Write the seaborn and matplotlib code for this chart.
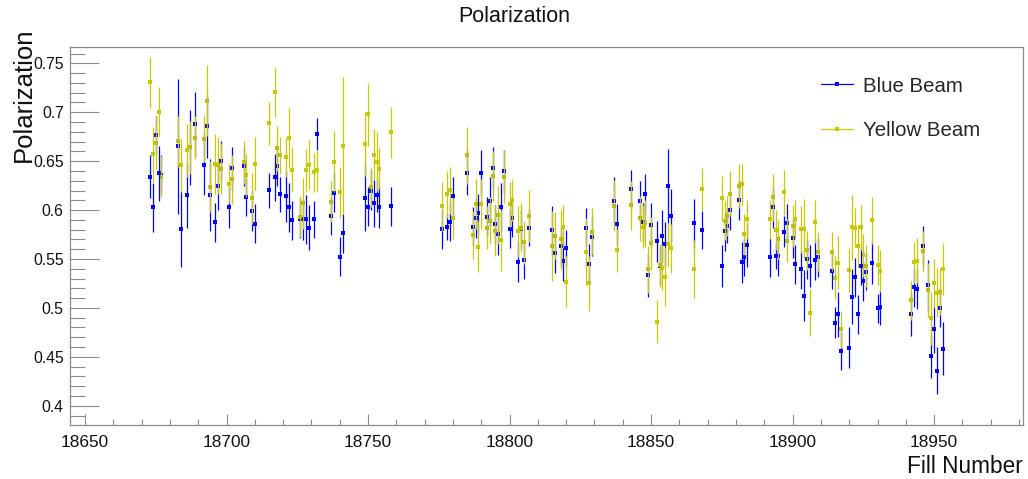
import matplotlib
matplotlib.use("Agg")
import matplotlib.pyplot as plt
from matplotlib.lines import Line2D
from matplotlib.ticker import MultipleLocator, FuncFormatter
import seaborn as sns

# Fill numbers and measured polarizations (with uncertainties) per beam
fills = [
    18673, 18674, 18675, 18676, 18677, 18683, 18684, 18686, 18687, 18689,
    18692, 18693, 18694, 18696, 18697, 18698, 18701, 18702, 18706, 18707,
    18709, 18710, 18715, 18717, 18718, 18719, 18721, 18722, 18723, 18726,
    18727, 18728, 18729, 18731, 18732, 18737, 18738, 18740, 18741, 18749,
    18750, 18751, 18752, 18753, 18754, 18758,
    18776, 18778, 18779, 18780, 18785, 18787, 18788, 18789, 18790, 18792,
    18793, 18794, 18795, 18796, 18797, 18798, 18800, 18801, 18803, 18804,
    18805, 18807,
    18815, 18816, 18818, 18819, 18820, 18827, 18828, 18829, 18837, 18838,
    18843, 18846, 18847, 18848, 18849, 18850, 18852, 18853, 18854, 18855,
    18856, 18857,
    18865, 18868, 18875, 18876, 18877, 18878, 18881, 18882, 18883, 18884,
    18892, 18893, 18894, 18895, 18897, 18898, 18900, 18901, 18903, 18904,
    18905, 18906, 18908, 18909,
    18914, 18915, 18916, 18917, 18920, 18921, 18922, 18923, 18924, 18925,
    18926, 18928, 18930, 18931, 18942, 18943, 18944, 18946, 18948, 18949,
    18950, 18951, 18952, 18953,
]

blue_pol = [
    0.634, 0.603, 0.677, 0.6375, 0.636, 0.6654, 0.5805, 0.615, 0.664, 0.688,
    0.6463, 0.686, 0.6157, 0.5874, 0.6245, 0.6497, 0.603, 0.6429, 0.6446, 0.6133,
    0.599, 0.586, 0.6204, 0.6337, 0.645, 0.6163, 0.6143, 0.6027, 0.5894, 0.5911,
    0.5908, 0.5904, 0.5819, 0.5904, 0.6777, 0.5942, 0.6177, 0.5523, 0.5765, 0.6122,
    0.6034, 0.620, 0.6068, 0.6153, 0.6030, 0.6041,
    0.5803, 0.583, 0.5881, 0.614, 0.6382, 0.583, 0.5918, 0.5966, 0.6382, 0.5932,
    0.6092, 0.6426, 0.5854, 0.5751, 0.6028, 0.6399, 0.5806, 0.5915, 0.5469, 0.5806,
    0.5486, 0.582,
    0.5796, 0.5565, 0.563, 0.548, 0.5608, 0.5819, 0.5451, 0.5727, 0.6095, 0.5853,
    0.6211, 0.6088, 0.5877, 0.6164, 0.5332, 0.5847, 0.5683, 0.5431, 0.5734, 0.5652,
    0.6245, 0.5942,
    0.5864, 0.5796, 0.5428, 0.5782, 0.584, 0.600, 0.6099, 0.5465, 0.5523, 0.5642,
    0.5516, 0.6031, 0.553, 0.553, 0.5779, 0.5864, 0.5711, 0.5445, 0.5397, 0.5124,
    0.5496, 0.5428, 0.5489, 0.5516,
    0.538, 0.4848, 0.4937, 0.4559, 0.4593, 0.5114, 0.5312, 0.4937, 0.5431, 0.5274,
    0.537, 0.5462, 0.4995, 0.5005, 0.4937, 0.521, 0.5189, 0.5632, 0.523, 0.4507,
    0.478, 0.4357, 0.5002, 0.4582,
]

blue_err = [
    0.022, 0.025, 0.019, 0.028, 0.020, 0.069, 0.039, 0.033, 0.038, 0.033,
    0.031, 0.033, 0.037, 0.020, 0.024, 0.021, 0.021, 0.022, 0.020, 0.019,
    0.020, 0.020, 0.018, 0.024, 0.020, 0.018, 0.026, 0.025, 0.020, 0.020,
    0.021, 0.025, 0.023, 0.019, 0.016, 0.020, 0.020, 0.020, 0.020, 0.034,
    0.020, 0.020, 0.024, 0.017, 0.021, 0.020,
    0.020, 0.014, 0.020, 0.020, 0.023, 0.020, 0.020, 0.020, 0.023, 0.020,
    0.025, 0.022, 0.020, 0.021, 0.025, 0.022, 0.019, 0.019, 0.020, 0.019,
    0.019, 0.019,
    0.025, 0.021, 0.020, 0.020, 0.019, 0.020, 0.020, 0.020, 0.024, 0.021,
    0.020, 0.021, 0.020, 0.020, 0.022, 0.023, 0.021, 0.020, 0.027, 0.023,
    0.038, 0.027,
    0.025, 0.019, 0.021, 0.020, 0.018, 0.020, 0.020, 0.021, 0.020, 0.022,
    0.020, 0.021, 0.013, 0.020, 0.016, 0.020, 0.020, 0.020, 0.020, 0.026,
    0.020, 0.021, 0.020, 0.020,
    0.019, 0.016, 0.023, 0.019, 0.021, 0.028, 0.020, 0.020, 0.020, 0.020,
    0.019, 0.022, 0.015, 0.018, 0.022, 0.020, 0.020, 0.021, 0.026, 0.022,
    0.024, 0.024, 0.020, 0.027,
]

yellow_pol = [
    0.7305, 0.657, 0.669, 0.7005, 0.634, 0.6705, 0.6456, 0.6613, 0.664, 0.674,
    0.673, 0.7118, 0.6238, 0.647, 0.6456, 0.6422, 0.6269, 0.6313, 0.649, 0.6358,
    0.6119, 0.6474, 0.6889, 0.7203, 0.6634, 0.6562, 0.6538, 0.6736, 0.6412, 0.5932,
    0.6068, 0.6405, 0.6463, 0.6385, 0.6405, 0.6085, 0.6494, 0.6184, 0.6658, 0.6675,
    0.6978, 0.6235, 0.6566, 0.6494, 0.6422, 0.6794,
    0.6041, 0.6164, 0.6205, 0.5915, 0.6559, 0.5745, 0.6062, 0.5625, 0.6062, 0.582,
    0.5891, 0.6348, 0.5789, 0.5949, 0.569, 0.6341, 0.6062, 0.6103, 0.5785, 0.582,
    0.567, 0.5939,
    0.5635, 0.574, 0.570, 0.583, 0.5267, 0.5574, 0.525, 0.5778, 0.6044, 0.5591,
    0.6051, 0.5915, 0.583, 0.5864, 0.5397, 0.5659, 0.4858, 0.5438, 0.541, 0.5318,
    0.5652, 0.5608,
    0.5397, 0.6215, 0.612, 0.5891, 0.5939, 0.6167, 0.6246, 0.6266, 0.5755, 0.5905,
    0.5905, 0.613, 0.5796, 0.570, 0.6181, 0.5687, 0.5837, 0.5908, 0.5803, 0.581,
    0.5591, 0.495, 0.5881, 0.5574,
    0.5574, 0.5308, 0.5462, 0.4783, 0.5387, 0.5823, 0.582, 0.5629, 0.5823, 0.554,
    0.5428, 0.5898, 0.5438, 0.5377, 0.508, 0.5465, 0.5482, 0.5581, 0.5182, 0.4893,
    0.525, 0.5155, 0.5165, 0.5397,
]

yellow_err = [
    0.026, 0.028, 0.027, 0.025, 0.021, 0.026, 0.027, 0.027, 0.027, 0.022,
    0.024, 0.036, 0.026, 0.031, 0.029, 0.026, 0.020, 0.025, 0.022, 0.022,
    0.026, 0.027, 0.022, 0.025, 0.023, 0.019, 0.020, 0.031, 0.023, 0.021,
    0.026, 0.022, 0.025, 0.020, 0.021, 0.021, 0.031, 0.026, 0.070, 0.033,
    0.032, 0.020, 0.026, 0.030, 0.021, 0.026,
    0.025, 0.024, 0.024, 0.021, 0.029, 0.025, 0.026, 0.026, 0.026, 0.022,
    0.024, 0.026, 0.026, 0.030, 0.031, 0.027, 0.023, 0.021, 0.026, 0.025,
    0.022, 0.027,
    0.036, 0.024, 0.030, 0.022, 0.026, 0.034, 0.028, 0.024, 0.026, 0.022,
    0.025, 0.023, 0.022, 0.024, 0.024, 0.027, 0.022, 0.022, 0.023, 0.030,
    0.022, 0.025,
    0.030, 0.022, 0.023, 0.020, 0.020, 0.023, 0.022, 0.021, 0.021, 0.020,
    0.020, 0.024, 0.020, 0.020, 0.023, 0.022, 0.021, 0.020, 0.024, 0.030,
    0.020, 0.024, 0.022, 0.020,
    0.020, 0.022, 0.027, 0.019, 0.022, 0.033, 0.020, 0.022, 0.023, 0.022,
    0.021, 0.024, 0.020, 0.021, 0.020, 0.021, 0.023, 0.021, 0.028, 0.027,
    0.025, 0.025, 0.024, 0.027,
]

series_labels = ["Blue Beam", "Yellow Beam"]
series_colors = ["#0000ff", "#c8c800"]

sns.set_theme(style="white")
plt.rcParams["font.family"] = ["Liberation Sans", "DejaVu Sans"]

W, H = 1028, 479
fig = plt.figure(figsize=(W / 100, H / 100), dpi=100)
left, right, top, bottom = 70, 1022.7, 47, 425
ax = fig.add_axes([left / W, 1 - bottom / H, (right - left) / W, (bottom - top) / H])

for vals, errs, col in [(blue_pol, blue_err, series_colors[0]),
                        (yellow_pol, yellow_err, series_colors[1])]:
    ax.errorbar(fills, vals, yerr=errs, fmt="none", ecolor=col,
                elinewidth=0.9, capsize=0)
    sns.scatterplot(x=fills, y=vals, color=col, marker="s", s=6,
                    linewidth=0, ax=ax, legend=False)

ax.set_xlim(18644.7, 18981.3)
ax.set_ylim(0.3803, 0.7667)

ax.xaxis.set_major_locator(MultipleLocator(50))
ax.xaxis.set_minor_locator(MultipleLocator(10))
ax.yaxis.set_major_locator(MultipleLocator(0.05))
ax.yaxis.set_minor_locator(MultipleLocator(0.01))
ax.xaxis.set_major_formatter(FuncFormatter(lambda v, p: f"{v:.0f}"))
ax.yaxis.set_major_formatter(FuncFormatter(lambda v, p: f"{v:g}"))

frame_col = "#8c8c8c"
for sp in ax.spines.values():
    sp.set_color(frame_col)
    sp.set_linewidth(0.9)

ax.tick_params(axis="y", which="major", direction="in", length=20.9, width=0.8,
               color=frame_col, labelsize=11.3, pad=4.5, left=True, right=False,
               labelcolor="#111111")
ax.tick_params(axis="y", which="minor", direction="in", length=10.8, width=0.8,
               color=frame_col, left=True, right=False)
ax.tick_params(axis="x", which="major", direction="in", length=7.9, width=0.8,
               color=frame_col, labelsize=12.4, pad=7, bottom=True, top=False,
               labelcolor="#111111")
ax.tick_params(axis="x", which="minor", direction="in", length=4, width=0.8,
               color=frame_col, bottom=True, top=False)
ax.set_xlabel("")
ax.set_ylabel("")

fig.text(514 / W, 1 - 22 / H, "Polarization", ha="center", va="baseline",
         fontsize=15.5, color="#111111")
fig.text(right / W, 1 - 472.7 / H, "Fill Number", ha="right", va="baseline",
         fontsize=16.3, color="#111111")
fig.text(36 / W, 1 - 28 / H, "Polarization", rotation=90, ha="right", va="top",
         fontsize=18.5, color="#111111")

handles = [Line2D([0], [0], color=c, lw=0.9, marker="s", markersize=2.2,
                  markeredgewidth=0) for c in series_colors]
ax.legend(handles, series_labels, loc="upper left",
          bbox_to_anchor=(820.7 / W, 1 - 76.5 / H), bbox_transform=fig.transFigure,
          frameon=False, fontsize=14.7, handlelength=1.6, handletextpad=0.45,
          labelspacing=1.26, borderpad=0, borderaxespad=0)

fig.savefig("out.png", dpi=100)
